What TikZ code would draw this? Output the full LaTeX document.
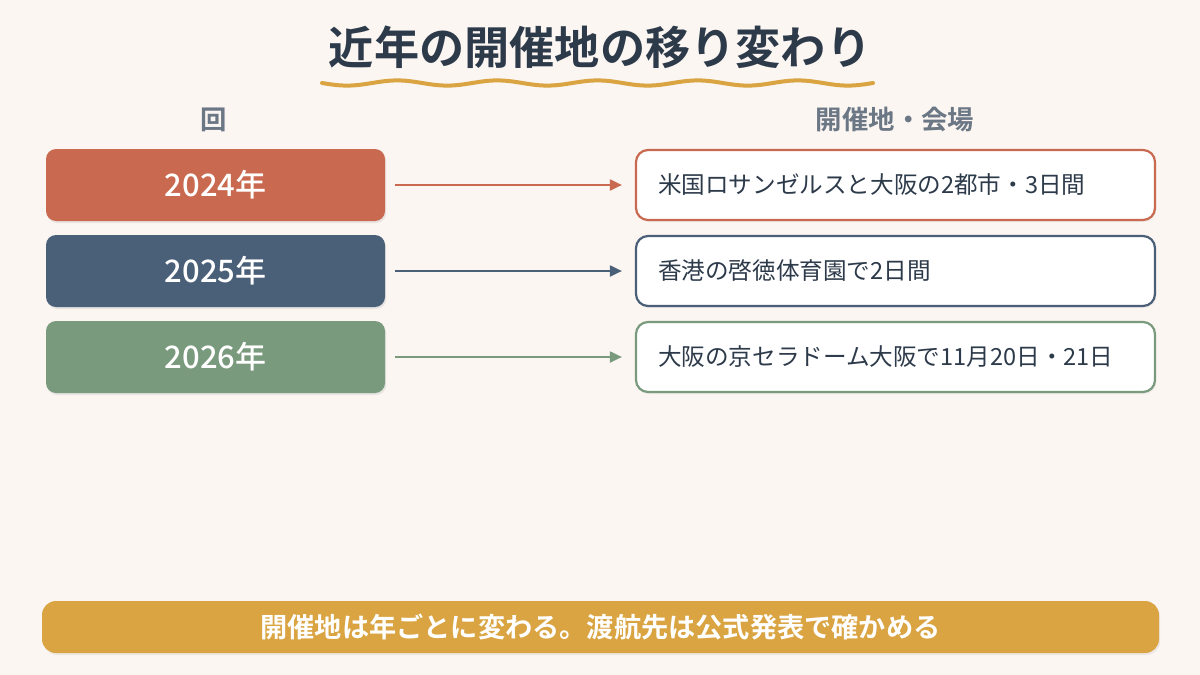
\documentclass[tikz,border=0pt]{standalone}
\usepackage{fontspec}
\setmainfont{Noto Sans CJK JP}
\newfontfamily\jpbold{Noto Sans CJK JP Bold}
\newfontfamily\jpmed{Noto Sans CJK JP Medium}
\usetikzlibrary{arrows.meta,shadows}
\definecolor{bgc}{HTML}{FBF6F2}
\definecolor{redc}{HTML}{C96A50}
\definecolor{bluec}{HTML}{4A5F78}
\definecolor{greenc}{HTML}{7A9A7E}
\definecolor{goldc}{HTML}{D9A441}
\definecolor{titlec}{HTML}{2D3A4A}
\definecolor{headc}{HTML}{6B7785}
\definecolor{txtc}{HTML}{2D3A4A}
\tikzset{
  yearbox/.style={rounded corners=5pt, minimum width=169.5pt, minimum height=36pt, text=white, font=\jpmed\fontsize{15.5}{18}\selectfont, drop shadow={opacity=0.15, shadow xshift=0.6pt, shadow yshift=-1pt}},
  placebox/.style={rounded corners=6pt, fill=white, line width=1.1pt, minimum width=259.5pt, minimum height=35pt, drop shadow={opacity=0.10, shadow xshift=0.6pt, shadow yshift=-1pt}},
  placetxt/.style={anchor=west, text=txtc, font=\fontsize{11.8}{14}\selectfont},
  conn/.style={line width=1pt, -{Triangle[length=6pt,width=5.5pt]}, shorten <=5pt, shorten >=6.5pt},
  headlbl/.style={text=headc, font=\jpbold\fontsize{13.2}{15}\selectfont},
}
\begin{document}
\begin{tikzpicture}[x=0.5pt,y=-0.5pt]
\fill[bgc] (0,0) rectangle (1200,675);
\useasboundingbox (0,0) rectangle (1200,675);
% title
\node[text=titlec, font=\jpbold\fontsize{22.6}{26}\selectfont] (title) at (600,47) {近年の開催地の移り変わり};
\draw[goldc, line width=2pt, line cap=round] plot[domain=322:873, samples=120] (\x, {83+2.6*sin((\x-322)/551*5.5*360)});
% headers
\node[headlbl] (h1) at (214,120) {回};
\node[headlbl] (h2) at (895,120) {開催地・会場};
% year boxes
\node[yearbox, fill=redc] (y1) at (215.5,185) {2024年};
\node[yearbox, fill=bluec] (y2) at (215.5,271) {2025年};
\node[yearbox, fill=greenc] (y3) at (215.5,357) {2026年};
% place boxes
\node[placebox, draw=redc] (p1) at (895.5,185) {};
\node[placebox, draw=bluec] (p2) at (895.5,271) {};
\node[placebox, draw=greenc] (p3) at (895.5,357) {};
\node[placetxt] (t1) at (651,185) {米国ロサンゼルスと大阪の2都市・3日間};
\node[placetxt] (t2) at (651,271) {香港の啓徳体育園で2日間};
\node[placetxt] (t3) at (651,357) {大阪の京セラドーム大阪で11月20日・21日};
% connectors
\draw[conn, redc] (y1) -- (p1);
\draw[conn, bluec] (y2) -- (p2);
\draw[conn, greenc] (y3) -- (p3);
% bottom banner
\node[rounded corners=7pt, fill=goldc, minimum width=558.5pt, minimum height=26pt, text=white, font=\jpbold\fontsize{13.6}{16}\selectfont, drop shadow={opacity=0.12, shadow xshift=0.6pt, shadow yshift=-1pt}] (banner) at (600.5,627) {開催地は年ごとに変わる。渡航先は公式発表で確かめる};
\end{tikzpicture}
\end{document}
